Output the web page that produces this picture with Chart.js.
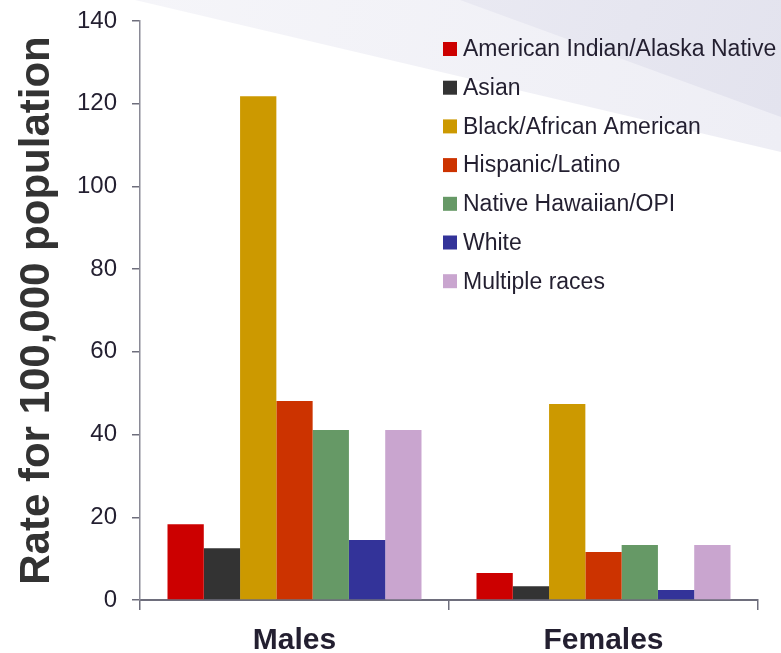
<!DOCTYPE html>
<html>
<head>
<meta charset="utf-8">
<script src="https://cdn.jsdelivr.net/npm/chart.js@4/dist/chart.umd.min.js"></script>
<style>
  html, body { margin: 0; padding: 0; background: #ffffff; }
  #wrap { width: 781px; height: 653px; position: relative; }
</style>
</head>
<body>
<div id="wrap"><canvas id="chart" width="781" height="653"></canvas></div>
<script>
// Rates per 100,000 population by race/ethnicity and sex
const categories = ['Males', 'Females'];
const races = [
  'American Indian/Alaska Native',
  'Asian',
  'Black/African American',
  'Hispanic/Latino',
  'Native Hawaiian/OPI',
  'White',
  'Multiple races'
];
const maleRates   = [18.3, 12.5, 121.8, 48.1, 41.1, 14.5, 41.1];
const femaleRates = [6.5, 3.3, 47.4, 11.6, 13.3, 2.4, 13.3];
const raceColors = ['#CC0000', '#333333', '#CC9900', '#CC3300', '#669966', '#333399', '#C9A5CF'];
const yTickValues = [0, 20, 40, 60, 80, 100, 120, 140];
const yTitle = 'Rate for 100,000 population';

const FONT = "'Liberation Sans', Arial, Helvetica, sans-serif";
const TEXT = '#231f30';
const AXIS = '#6e6e7c';

// Soft slanted banner shading across the top of the slide
const backdrop = {
  id: 'backdrop',
  beforeDraw(chart) {
    const { ctx, width } = chart;
    ctx.save();
    ctx.fillStyle = '#ffffff';
    ctx.fillRect(0, 0, width, chart.height);
    let g = ctx.createLinearGradient(135, 0, width, 150);
    g.addColorStop(0, '#f5f5f9');
    g.addColorStop(1, '#eeeef5');
    ctx.fillStyle = g;
    ctx.beginPath();
    ctx.moveTo(135, 0);
    ctx.lineTo(width, 0);
    ctx.lineTo(width, 152);
    ctx.closePath();
    ctx.fill();
    g = ctx.createLinearGradient(460, 0, width, 117);
    g.addColorStop(0, '#e9e9f2');
    g.addColorStop(1, '#e3e3ee');
    ctx.fillStyle = g;
    ctx.beginPath();
    ctx.moveTo(460, 0);
    ctx.lineTo(width, 0);
    ctx.lineTo(width, 117);
    ctx.closePath();
    ctx.fill();
    ctx.restore();
  }
};

// Vertical key of square swatches in the upper right of the plot
const seriesKey = {
  id: 'seriesKey',
  afterDraw(chart) {
    const { ctx } = chart;
    ctx.save();
    ctx.font = '23px ' + FONT;
    ctx.textBaseline = 'middle';
    ctx.textAlign = 'left';
    chart.data.datasets.forEach((ds, i) => {
      const cy = 49 + i * 38.7;
      ctx.fillStyle = ds.backgroundColor;
      ctx.fillRect(443, cy - 7, 14, 14);
      ctx.fillStyle = TEXT;
      ctx.fillText(ds.label, 463, cy + 1);
    });
    ctx.restore();
  }
};

const datasets = races.map((name, i) => ({
  label: name,
  data: [maleRates[i], femaleRates[i]],
  backgroundColor: raceColors[i],
  borderWidth: 0,
  categoryPercentage: 0.822,
  barPercentage: 1.0
}));

new Chart(document.getElementById('chart'), {
  type: 'bar',
  data: { labels: categories, datasets },
  options: {
    responsive: false,
    animation: false,
    events: [],
    layout: { padding: { top: 21, right: 23, left: 0, bottom: 0 } },
    plugins: {
      legend: { display: false },
      tooltip: { enabled: false }
    },
    scales: {
      x: {
        offset: true,
        grid: {
          offset: true,
          drawOnChartArea: false,
          drawTicks: true,
          tickLength: 10,
          color: AXIS,
          lineWidth: 1.5
        },
        border: { display: true, color: AXIS, width: 2 },
        ticks: {
          color: TEXT,
          font: { family: FONT, size: 30, weight: 'bold' },
          padding: 13
        },
        afterFit(scale) {
          scale.height = 53;
          scale.paddingLeft = 0;
          scale.paddingRight = 0;
        }
      },
      y: {
        min: 0,
        max: 140,
        afterBuildTicks(scale) { scale.ticks = yTickValues.map(v => ({ value: v })); },
        grid: {
          drawOnChartArea: false,
          drawTicks: true,
          tickLength: 8,
          color: AXIS,
          lineWidth: 1.5
        },
        border: { display: true, color: '#8a8a96', width: 1.5 },
        ticks: {
          color: TEXT,
          font: { family: FONT, size: 24 },
          padding: 15
        },
        title: {
          display: true,
          text: yTitle,
          color: '#333333',
          font: { family: FONT, size: 42, weight: 'bold', lineHeight: 1.2 },
          padding: { top: 12, bottom: 0 }
        },
        afterFit(scale) {
          scale.width = 140;
          scale.paddingTop = 0;
          scale.paddingBottom = 0;
        }
      }
    }
  },
  plugins: [backdrop, seriesKey]
});
</script>
</body>
</html>
